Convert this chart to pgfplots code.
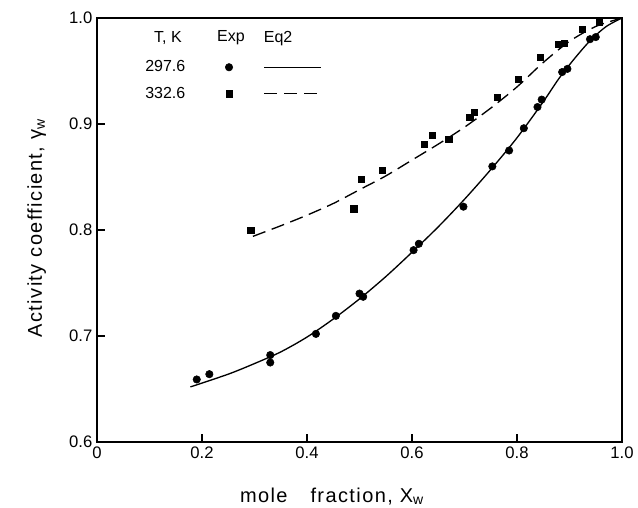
\documentclass[border=0pt]{standalone}
\usepackage{fontspec}
\setmainfont{Liberation Sans}
\newfontfamily\lblfont[LetterSpace=7]{Liberation Sans}
\usepackage{pgfplots}
\pgfplotsset{compat=1.18}
\pgfplotsset{
  legmark/.style={legend image code/.code={\draw[##1] plot coordinates {(0pt,0pt)};}},
  legline/.style={legend image code/.code={\draw[##1] (0pt,0pt) -- (43pt,0pt);}},
}

\begin{document}
\begin{tikzpicture}
  \begin{axis}[
      at={(0pt,0pt)}, anchor=south west,
      scale only axis, width=393.75pt, height=318pt,
      xmin=0, xmax=1, ymin=0.6, ymax=1.0,
      xtick={0,0.2,0.4,0.6,0.8,1.0}, xticklabels={0,0.2,0.4,0.6,0.8,1.0},
      ytick={0.6,0.7,0.8,0.9,1.0}, yticklabels={0.6,0.7,0.8,0.9,1.0},
      tick align=inside, xtick pos=left, ytick pos=left,
      major tick length=6pt,
      tick style={line width=0.8pt, black},
      axis line style={line width=1pt},
      ticklabel style={font=\fontsize{12.5}{14}\selectfont},
      legend plot pos=right, legend columns=2,
      legend style={at={(axis cs:0.0914,0.960)}, anchor=north west,
        draw=none, fill=none, inner sep=0pt,
        font=\fontsize{12}{14}\selectfont,
        nodes={inner sep=0pt}, row sep=10pt,
        /tikz/column 1/.style={column sep=30pt},
        /tikz/column 2/.style={column sep=22pt}},
    ]
    % 297.6 K, experimental
    \addplot[only marks, mark=*, mark size=2.8pt, black, legmark]
      coordinates {
        (0.190,0.659) (0.214,0.664) (0.330,0.682) (0.330,0.675)
        (0.417,0.702) (0.455,0.719) (0.500,0.740) (0.507,0.737)
        (0.603,0.781) (0.613,0.787) (0.698,0.822) (0.753,0.860)
        (0.785,0.875) (0.813,0.896) (0.839,0.916) (0.847,0.923)
        (0.886,0.949) (0.896,0.952) (0.939,0.980) (0.950,0.982)
      };
    \addlegendentry{297.6}
    % 297.6 K, Eq 2
    \addplot[smooth, black, line width=1pt, legline]
      coordinates {
        (0.178,0.652) (0.25,0.664) (0.30,0.674) (0.35,0.685) (0.40,0.699)
        (0.45,0.716) (0.50,0.735) (0.55,0.756) (0.60,0.779) (0.65,0.803)
        (0.70,0.829) (0.75,0.857) (0.80,0.887) (0.85,0.921) (0.88,0.943)
        (0.91,0.962) (0.94,0.979) (0.97,0.992) (1.0,1.0)
      };
    \addlegendentry{}
    % 332.6 K, experimental
    \addplot[only marks, mark=square*, mark size=2.3pt, black, legmark]
      coordinates {
        (0.293,0.800) (0.489,0.820) (0.504,0.848) (0.543,0.856)
        (0.623,0.881) (0.639,0.889) (0.670,0.886) (0.710,0.906)
        (0.719,0.911) (0.762,0.925) (0.803,0.942) (0.845,0.963)
        (0.879,0.975) (0.890,0.976) (0.924,0.989) (0.957,0.996)
      };
    \addlegendentry{332.6}
    % 332.6 K, Eq 2
    \addplot[smooth, black, line width=1pt, dash pattern=on 10pt off 5pt, legline]
      coordinates {
        (0.297,0.794) (0.35,0.804) (0.40,0.814) (0.45,0.825) (0.50,0.838)
        (0.55,0.851) (0.60,0.866) (0.65,0.881) (0.70,0.897) (0.75,0.915)
        (0.80,0.935) (0.85,0.958) (0.90,0.978) (0.95,0.992) (1.0,1.0)
      };
    \addlegendentry{}
    \node[anchor=west, font=\fontsize{12}{14}\selectfont] at (axis cs:0.100,0.981) {T, K};
    \node[anchor=center, font=\fontsize{12}{14}\selectfont] at (axis cs:0.255,0.981) {Exp};
    \node[anchor=center, font=\fontsize{12}{14}\selectfont] at (axis cs:0.345,0.981) {Eq2};
  \end{axis}
  % axis titles
  \node[rotate=90, anchor=base, font=\lblfont\fontsize{15}{17}\selectfont]
    at (-41.25pt,160.5pt) {Activity coefficient, γ\textsubscript{w}};
  \node[anchor=base, font=\lblfont\fontsize{15}{17}\selectfont]
    at (176.25pt,-45pt) {mole\hspace{12pt} fraction, X\textsubscript{w}};
  \pgfresetboundingbox
  \path (-72.75pt,-48.75pt) rectangle (405.75pt,331.5pt);
\end{tikzpicture}
\end{document}
